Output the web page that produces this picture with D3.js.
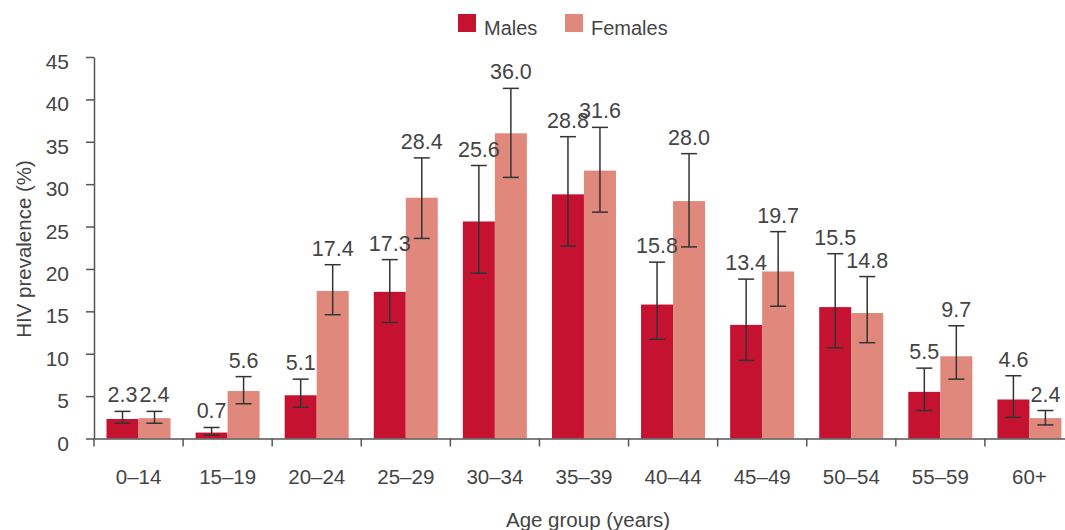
<!DOCTYPE html>
<html><head><meta charset="utf-8">
<script src="https://cdn.jsdelivr.net/npm/d3@7"></script>
<style>
body{margin:0;background:#fff;}
text{font-family:"Liberation Sans",Arial,sans-serif;fill:#444;}
</style></head>
<body><svg id="c" width="1065" height="530"></svg>
<script>
const categories = ["0–14","15–19","20–24","25–29","30–34","35–39","40–44","45–49","50–54","55–59","60+"];
const males   = [2.3,0.7,5.1,17.3,25.6,28.8,15.8,13.4,15.5,5.5,4.6];
const females = [2.4,5.6,17.4,28.4,36.0,31.6,28.0,19.7,14.8,9.7,2.4];
const malesLow   = [1.8,0.4,3.7,13.7,19.5,22.7,11.7,9.2,10.7,3.3,2.5];
const malesHigh  = [3.2,1.3,7.0,21.1,32.2,35.6,20.8,18.8,21.8,8.3,7.4];
const femalesLow  = [1.8,4.1,14.6,23.6,30.8,26.7,22.6,15.6,11.3,7.0,1.6];
const femalesHigh = [3.2,7.3,20.5,33.1,41.3,36.7,33.6,24.4,19.1,13.3,3.3];
const yTicks = [0,5,10,15,20,25,30,35,40,45];
const seriesNames = ["Males","Females"];
const colors = ["#c41230","#e0887b"];

const svg = d3.select("#c");
const x0 = d3.scaleBand().domain(categories).range([94,1074]).paddingInner(0).paddingOuter(0);
const x1 = d3.scaleBand().domain(seriesNames).range([12.5,76.5]);
const y = d3.scaleLinear().domain([0,45]).range([438.5,57]);

const series = [
  {name:"Males", vals:males, lo:malesLow, hi:malesHigh},
  {name:"Females", vals:females, lo:femalesLow, hi:femalesHigh}
];

// bars
series.forEach((s,si)=>{
  svg.append("g").selectAll("rect").data(categories).join("rect")
    .attr("x",(c)=>x0(c)+x1(s.name))
    .attr("width",x1.bandwidth())
    .attr("y",(c,i)=>y(s.vals[i]))
    .attr("height",(c,i)=>y(0)-y(s.vals[i]))
    .attr("fill",colors[si]);
});

// error bars
series.forEach((s)=>{
  const g = svg.append("g").attr("stroke","#333").attr("stroke-width",1.5);
  categories.forEach((c,i)=>{
    const cx = x0(c)+x1(s.name)+x1.bandwidth()/2;
    g.append("line").attr("x1",cx).attr("x2",cx).attr("y1",y(s.lo[i])).attr("y2",y(s.hi[i]));
    g.append("line").attr("x1",cx-8).attr("x2",cx+8).attr("y1",y(s.lo[i])).attr("y2",y(s.lo[i]));
    g.append("line").attr("x1",cx-8).attr("x2",cx+8).attr("y1",y(s.hi[i])).attr("y2",y(s.hi[i]));
  });
});

// value labels
series.forEach((s)=>{
  svg.append("g").selectAll("text").data(categories).join("text")
    .attr("x",(c)=>x0(c)+x1(s.name)+x1.bandwidth()/2)
    .attr("y",(c,i)=>y(s.hi[i])-9)
    .attr("text-anchor","middle")
    .attr("font-size",21.5)
    .text((c,i)=>s.vals[i].toFixed(1));
});

// axes
const xAxis = svg.append("g").attr("transform","translate(0,438.5)")
  .call(d3.axisBottom(x0).tickSize(0).tickPadding(0));
xAxis.select(".domain").attr("stroke","#555").attr("stroke-width",1.5);
xAxis.selectAll("text").attr("font-size",20.5).attr("fill","#444").attr("y",45.5).attr("dy",0)
  .style("font-family","Liberation Sans, Arial, sans-serif");
const bounds = categories.map(c=>x0(c));
xAxis.selectAll(".btick").data(bounds).join("line").attr("class","btick")
  .attr("x1",d=>d).attr("x2",d=>d).attr("y1",0).attr("y2",8)
  .attr("stroke","#555").attr("stroke-width",1.5);

const yAxis = svg.append("g").attr("transform","translate(94,0)")
  .call(d3.axisLeft(y).tickValues(yTicks).tickSize(8).tickPadding(17).tickSizeOuter(0));
yAxis.select(".domain").attr("stroke","#555").attr("stroke-width",1.5);
yAxis.selectAll(".tick line").attr("stroke","#555").attr("stroke-width",1.5);
yAxis.selectAll("text").attr("font-size",21).attr("fill","#444").attr("dy","0.55em")
  .style("font-family","Liberation Sans, Arial, sans-serif");

// axis titles
svg.append("text").attr("x",588).attr("y",527).attr("text-anchor","middle").attr("font-size",20.5).text("Age group (years)");
svg.append("text").attr("transform","translate(31,249) rotate(-90)").attr("text-anchor","middle").attr("font-size",20.5).text("HIV prevalence (%)");

// legend
const legX = [458,565];
series.forEach((s,si)=>{
  svg.append("rect").attr("x",legX[si]).attr("y",14).attr("width",18).attr("height",18).attr("fill",colors[si]);
  svg.append("text").attr("x",legX[si]+26).attr("y",35).attr("font-size",20).text(s.name);
});
</script></body></html>
